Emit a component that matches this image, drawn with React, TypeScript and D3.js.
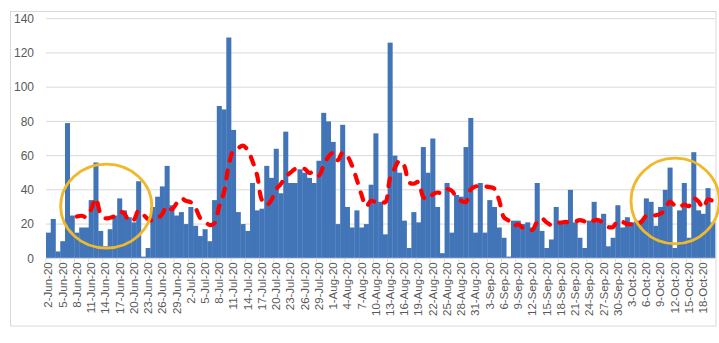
import React from "react";
import * as d3 from "d3";

// Daily values, 2-Jun-20 .. 20-Oct-20 (141 days)
const dailyValues: number[] = [
  15, 23, 4, 10, 79, 25, 15, 18, 18, 34,
  56, 16, 7, 17, 25, 35, 28, 24, 21, 45,
  1, 6, 30, 36, 42, 54, 31, 25, 27, 20,
  30, 19, 13, 17, 10, 34, 89, 87, 129, 75,
  27, 20, 16, 44, 28, 29, 54, 47, 64, 38,
  74, 44, 44, 52, 50, 47, 44, 57, 85, 80,
  68, 20, 78, 30, 18, 28, 18, 20, 43, 73,
  33, 14, 126, 60, 50, 22, 6, 27, 21, 65,
  50, 70, 30, 3, 44, 15, 37, 36, 65, 82,
  15, 44, 15, 34, 30, 18, 12, 1, 22, 22,
  20, 21, 18, 44, 16, 6, 11, 30, 21, 21,
  40, 21, 12, 6, 22, 33, 22, 26, 7, 12,
  31, 18, 24, 21, 22, 22, 35, 33, 19, 30,
  40, 53, 6, 28, 44, 12, 62, 28, 26, 41,
  21,
];

const startDate = new Date(2020, 5, 2);
const dates: Date[] = d3.timeDay.range(startDate, d3.timeDay.offset(startDate, dailyValues.length));
const fmt = d3.timeFormat("%-d-%b-%y");
const categories: string[] = dates.map((d) => fmt(d));
const yTicks: number[] = [0, 20, 40, 60, 80, 100, 120, 140];
const windowSize = 7;

// annotation circles: [center category index, center value, radius in days, radius in value]
const highlightCenters: number[][] = [
  [12.7, 30.5, 9.6, 24.5],
  [132.6, 33.5, 9.3, 25],
];

const W = 719;
const H = 343;
const plot = { left: 46, right: 715, top: 18.7, bottom: 258.3 };

export default function App() {
  const x = d3.scaleBand<string>().domain(categories).range([plot.left, plot.right]).padding(0);
  const y = d3.scaleLinear().domain([0, 140]).range([plot.bottom, plot.top]);
  const bw = x.bandwidth();

  const avg: [number, number][] = [];
  for (let i = windowSize - 1; i < dailyValues.length; i++) {
    const m = d3.mean(dailyValues.slice(i - windowSize + 1, i + 1)) as number;
    avg.push([(x(categories[i]) as number) + bw / 2, y(m)]);
  }
  const line = d3.line().curve(d3.curveCatmullRom.alpha(0.5))(avg) || "";

  const xOfIdx = (i: number) => plot.left + (i + 0.5) * bw;
  const pxPerUnit = (plot.bottom - plot.top) / 140;

  return (
    <svg width={W} height={H} style={{ position: "absolute", left: 0, top: 0, background: "#fff" }}
      fontFamily="'Liberation Sans', Arial, sans-serif">
      <rect x={10.5} y={11.5} width={705.5} height={314.5} fill="#fff" stroke="#d9d9d9" strokeWidth={1} />
      {yTicks.map((t) => (
        <g key={t}>
          {t > 0 && (
            <line x1={plot.left} x2={plot.right} y1={y(t)} y2={y(t)} stroke="#d9d9d9" strokeWidth={1} />
          )}
          <text x={34} y={y(t)} dy="0.35em" textAnchor="end" fontSize={12} fill="#595959">{t}</text>
        </g>
      ))}
      {dailyValues.map((v, i) => (
        <rect key={i} x={x(categories[i])} y={y(v)} width={bw + 0.3} height={y(0) - y(v)} fill="#4275b8" />
      ))}
      <line x1={plot.left} x2={plot.right} y1={y(0)} y2={y(0)} stroke="#d9d9d9" strokeWidth={1} />
      {categories.map((c, i) =>
        i % 3 === 0 ? (
          <g key={c}>
            <line x1={x(c) as number} x2={x(c) as number} y1={y(0)} y2={y(0) + 4} stroke="#d9d9d9" />
            <text
              transform={`translate(${(x(c) as number) + bw / 2},${y(0) + 4}) rotate(-90)`}
              textAnchor="end" dy="0.35em" fontSize={11.5} fill="#595959"
            >
              {c}
            </text>
          </g>
        ) : null
      )}
      <path d={line} fill="none" stroke="#ff0000" strokeWidth={4.2} strokeDasharray="8 10" strokeLinecap="round" />
      {highlightCenters.map(([ci, cv, rd, rv], k) => (
        <ellipse key={k} cx={xOfIdx(ci) - bw / 2} cy={y(cv)} rx={rd * bw} ry={rv * pxPerUnit}
          fill="none" stroke="#f0b92b" strokeWidth={2.8} />
      ))}
    </svg>
  );
}
